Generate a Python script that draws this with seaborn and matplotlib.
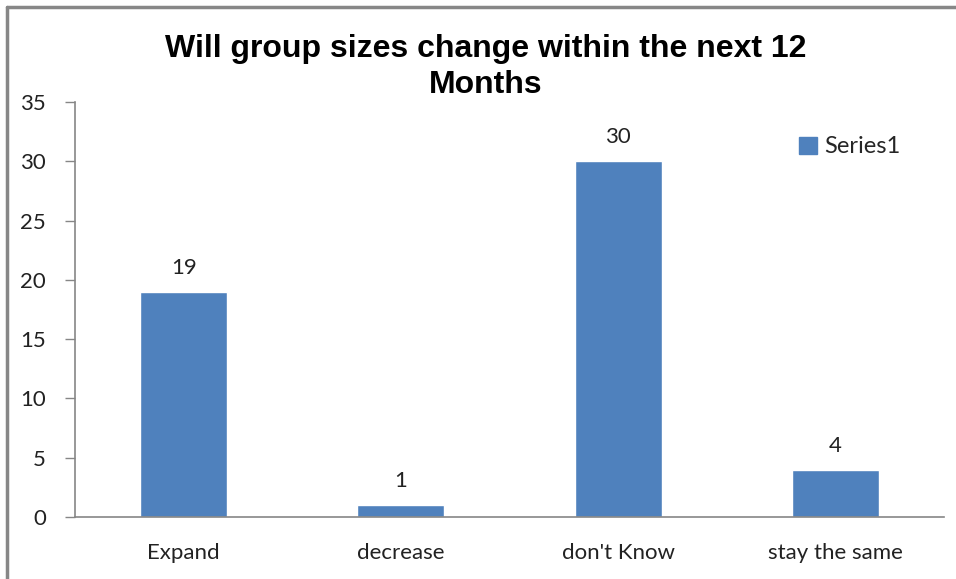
import matplotlib
matplotlib.use("Agg")
import matplotlib.pyplot as plt
import seaborn as sns
import pandas as pd
from matplotlib.lines import Line2D
from matplotlib.patches import Patch

categories = ["Expand", "decrease", "don't Know", "stay the same"]
values = [19, 1, 30, 4]
yticks = [0, 5, 10, 15, 20, 25, 30, 35]
title = "Will group sizes change within the next 12\nMonths"
series_name = "Series1"

sns.set_theme(style="white")
plt.rcParams['font.family'] = ['Lato', 'DejaVu Sans']

bar_color = "#4F81BD"
W, H = 956, 579
fig = plt.figure(figsize=(W / 100, H / 100), dpi=100)

# axes placement in pixels
left, right, top, bottom = 75, 944, 102, 517
ax = fig.add_axes([left / W, 1 - bottom / H, (right - left) / W, (bottom - top) / H])

df = pd.DataFrame({"cat": categories, "val": values})
sns.barplot(data=df, x="cat", y="val", color=bar_color, saturation=1, width=0.4, ax=ax)

ax.set_ylim(0, 35)
ax.set_xlim(-0.5, len(categories) - 0.5)
ax.set_yticks(yticks)
ax.set_yticklabels([str(t) for t in yticks], fontsize=16, color="#222222")
ax.set_xlabel("")
ax.set_ylabel("")
ax.tick_params(axis="x", length=0, pad=19, labelsize=16, labelcolor="#222222")
ax.tick_params(axis="y", left=True, length=7, width=1, color="#868686", pad=14, direction="out")
for s in ["top", "right"]:
    ax.spines[s].set_visible(False)
for s in ["left", "bottom"]:
    ax.spines[s].set_color("#868686")
    ax.spines[s].set_linewidth(1.2)

for i, v in enumerate(values):
    ax.annotate(str(v), (i, v), xytext=(0, 10), textcoords="offset points",
                ha="center", va="bottom", fontsize=16, color="#222222")

fig.text(486 / W, 1 - 67 / H, title, ha="center", va="center",
         fontsize=23, fontweight="bold", family=["Liberation Sans", "DejaVu Sans"],
         linespacing=1.3, color="black")

leg = ax.legend(handles=[Patch(facecolor=bar_color, edgecolor=bar_color, label=series_name)],
                loc="upper left", bbox_to_anchor=((790 - left) / (right - left), 1 - (127 - top) / (bottom - top)),
                frameon=False, fontsize=17, handlelength=0.75, handleheight=0.75, handletextpad=0.3,
                borderaxespad=0)

# outer chart border (left and top only visible)
bc = "#878787"
fig.add_artist(Line2D([7 / W, 7 / W], [0, 1 - 7 / H], color=bc, lw=2.5, transform=fig.transFigure))
fig.add_artist(Line2D([7 / W, 1.0], [1 - 7 / H, 1 - 7 / H], color=bc, lw=2.5, transform=fig.transFigure))

fig.savefig("out.png", dpi=100)
